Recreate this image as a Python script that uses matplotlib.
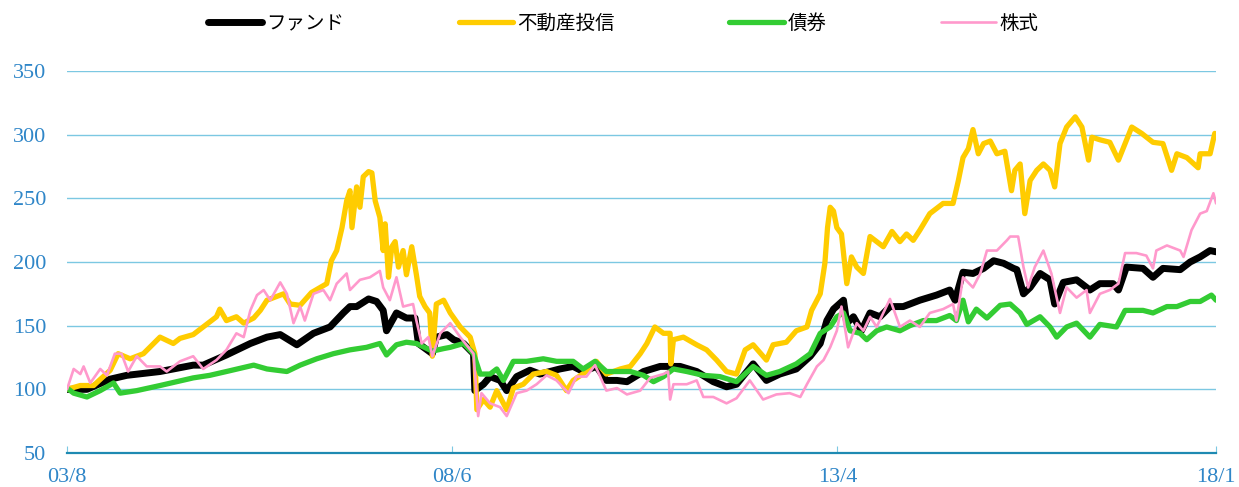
"""
plot.py
Cumulative index of a fund vs. J-REIT, bonds and stocks (03/8 = 100).
"""

import matplotlib
matplotlib.use("Agg")
import matplotlib.pyplot as plt

# months since 2003-08, index value
FUND_M = [0, 3.0, 6.5, 9.0, 14.0, 19.0, 20.5, 24.0, 27.6, 30.1, 32.1, 34.6, 37.1, 39.6,
          41.6, 42.6, 43.6, 45.4, 46.6, 47.6, 48.1, 49.6, 51.1, 52.4, 52.9, 55.0, 55.6,
          57.2, 58.2, 59.7, 61.2, 61.4, 62.7, 63.7, 65.2, 66.2, 67.7, 69.7, 71.2, 72.7,
          74.2, 76.2, 77.7, 79.7, 81.2, 82.8, 84.3, 86.8, 89.3, 92.3, 94.8, 97.3, 99.3,
          100.8, 103.3, 105.3, 107.3, 109.8, 111.9, 113.4, 114.4, 115.4, 116.9, 117.4,
          118.4, 119.6, 120.9, 122.4, 123.9, 125.9, 128.4, 130.9, 132.9, 133.7, 134.9,
          136.4, 138.0, 139.5, 141.0, 142.5, 143.0, 144.0, 145.0, 146.5, 148.0, 148.7,
          150.0, 152.0, 154.0, 155.5, 157.5, 158.3, 159.5, 162.0, 163.5, 165.0, 167.6,
          169.1, 170.6, 172.1, 173]
FUND_V = [100, 100, 108, 111, 114, 119, 119, 127, 136, 141, 143, 135, 144, 149,
          160, 165, 165, 171, 169, 162, 146, 160, 156, 156, 136, 128, 141,
          143, 139, 136, 128, 99, 104, 110, 107, 99, 110, 115, 112, 114,
          116, 118, 114, 118, 107, 107, 106, 114, 118, 118, 114, 106, 102,
          104, 120, 107, 112, 116, 126, 136, 154, 163, 170, 152,
          157, 146, 160, 157, 165, 165, 170, 174, 178, 170, 192,
          191, 195, 201, 199, 195, 194, 175, 180, 191, 186, 167,
          184, 186, 178, 183, 183, 178, 196, 195, 188, 195, 194,
          200, 204, 209, 208]

REIT_M = [0, 2.0, 4.0, 6.5, 7.7, 9.5, 11.5, 14.0, 16.0, 17.0, 19.0, 20.5, 22.5, 23.0,
          24.0, 25.5, 26.6, 28.1, 29.1, 30.1, 32.6, 33.6, 35.1, 36.8, 39.1, 39.8, 40.6,
          41.4, 42.1, 42.6, 42.9, 43.6, 44.1, 44.6, 45.4, 45.9, 46.4, 47.1, 47.6, 47.9,
          48.4, 48.9, 49.4, 49.9, 50.6, 51.1, 51.9, 52.6, 53.1, 53.9, 54.6, 55.0, 55.6,
          56.7, 57.7, 59.2, 60.7, 61.4, 61.7, 62.7, 63.7, 64.7, 66.2, 67.2, 68.7, 70.2,
          72.2, 73.7, 75.2, 76.2, 78.2, 79.7, 81.2, 83.3, 84.8, 86.3, 87.3, 88.5, 89.8,
          90.8, 90.9, 91.3, 92.8, 94.8, 96.3, 97.8, 99.3, 100.8, 102.1, 103.3, 105.3,
          106.3, 108.3, 109.8, 111.4, 112.1, 113.4, 114.1, 114.5, 114.9, 115.4, 115.9,
          116.6, 117.4, 118.1, 118.9, 119.9, 120.9, 121.9, 122.9, 124.2, 125.4, 126.4,
          127.4, 128.4, 129.9, 131.9, 133.4, 134.2, 134.9, 135.7, 136.4, 137.2, 138.0,
          139.0, 140.0, 141.2, 142.2, 142.7, 143.5, 144.2, 145.0, 146.0, 147.0, 148.0,
          148.7, 149.5, 150.5, 151.8, 152.8, 153.8, 154.3, 155.5, 157.0, 158.3, 159.3,
          160.3, 161.8, 163.5, 165.0, 166.3, 167.1, 168.6, 170.3, 170.6, 172.1, 172.8, 173]
REIT_V = [100, 103, 103, 115, 128, 124, 128, 141, 136, 140, 143, 149, 157, 163,
          154, 157, 152, 156, 162, 170, 175, 167, 166, 176, 183, 201, 209,
          227, 248, 256, 227, 259, 243, 267, 271, 270, 248, 235, 209, 230,
          188, 212, 216, 196, 209, 190, 212, 190, 173, 165, 160, 126, 167,
          170, 160, 149, 141, 128, 84, 92, 86, 99, 84, 101, 104, 112,
          114, 111, 99, 107, 114, 122, 112, 116, 118, 128, 136, 149, 144,
          144, 120, 139, 141, 135, 131, 123, 114, 112, 131, 135, 123,
          135, 137, 146, 149, 162, 175, 199, 227, 243, 240, 227,
          222, 183, 204, 196, 191, 220, 216, 212, 224, 216, 222,
          217, 225, 238, 246, 246, 264, 282, 289, 304, 285, 293,
          295, 285, 287, 256, 272, 277, 238, 264, 272, 277, 272,
          259, 293, 306, 314, 306, 280, 298, 296, 294, 280, 293,
          306, 301, 294, 293, 272, 285, 282, 274, 285, 285, 301, 298]

BOND_M = [0, 1.0, 3.0, 5.0, 7.0, 8.0, 10.5, 14.0, 16.5, 19.0, 21.5, 24.0, 28.1, 30.1,
          33.1, 35.1, 37.6, 40.1, 42.6, 45.1, 47.1, 48.1, 49.6, 51.1, 52.6, 55.0, 56.7,
          57.7, 59.7, 61.2, 62.2, 63.7, 64.7, 65.7, 67.2, 69.2, 71.7, 73.7, 76.2, 77.7,
          79.5, 81.2, 84.8, 86.8, 88.3, 89.8, 91.3, 93.3, 95.8, 98.3, 100.8, 103.3, 105.3,
          107.3, 109.8, 111.9, 113.4, 114.9, 115.9, 116.9, 117.9, 119.4, 120.4, 121.9,
          123.4, 125.4, 126.9, 128.9, 130.9, 132.9, 133.9, 134.9, 135.7, 136.9, 138.5,
          140.5, 142.0, 143.5, 144.5, 146.5, 148.0, 149.0, 150.5, 152.0, 154.0, 155.5,
          158.0, 159.3, 162.0, 163.5, 165.6, 167.1, 169.1, 170.6, 172.3, 173]
BOND_V = [101, 97, 94, 99, 105, 97, 99, 103, 106, 109, 111, 114, 119, 116,
          114, 119, 124, 128, 131, 133, 136, 127, 135, 137, 136, 130, 132,
          133, 136, 128, 112, 112, 116, 107, 122, 122, 124, 122, 122, 116,
          122, 114, 114, 111, 106, 110, 116, 114, 111, 110, 106, 118, 111,
          114, 120, 128, 144, 149, 157, 160, 146, 144, 139, 146,
          149, 146, 150, 154, 154, 158, 154, 170, 153, 163, 156,
          166, 167, 160, 151, 157, 149, 141, 149, 152, 141, 151,
          149, 162, 162, 160, 165, 165, 169, 169, 174, 170]

STOCK_M = [0, 1.0, 2.0, 2.5, 3.5, 5.0, 6.0, 7.2, 8.2, 9.2, 10.5, 12.0, 14.0, 15.0,
           17.0, 19.0, 20.5, 22.5, 24.0, 25.5, 26.6, 27.6, 28.6, 29.6, 30.6, 32.1, 33.1,
           34.1, 35.1, 35.8, 37.1, 38.6, 39.6, 40.6, 42.1, 42.6, 44.1, 45.6, 47.1, 47.6,
           48.6, 49.6, 50.6, 52.1, 52.6, 53.4, 54.4, 55.0, 56.2, 57.7, 59.2, 61.2, 61.9,
           62.4, 63.7, 65.2, 66.2, 67.7, 69.2, 70.7, 72.2, 73.7, 75.5, 76.7, 78.2, 79.5,
           81.2, 82.8, 84.3, 86.3, 87.8, 89.8, 90.5, 90.8, 91.3, 93.3, 94.8, 95.8, 97.3,
           99.3, 100.8, 102.8, 104.8, 106.8, 108.8, 110.4, 111.4, 112.9, 113.9, 114.9,
           115.9, 116.6, 117.6, 118.9, 119.9, 120.9, 121.9, 123.9, 125.4, 126.9, 128.4,
           129.9, 131.9, 133.4, 133.9, 134.9, 136.4, 137.5, 138.5, 140.0, 141.5, 142.0,
           143.2, 144.0, 144.7, 145.7, 147.0, 148.2, 149.5, 150.5, 152.0, 153.5, 154.0,
           155.5, 157.0, 158.3, 159.3, 161.0, 162.5, 163.5, 164.0, 165.6, 167.6, 168.1,
           169.3, 170.6, 171.6, 172.6, 173]
STOCK_V = [100, 116, 112, 118, 105, 116, 111, 128, 128, 114, 126, 118, 118, 114,
           122, 126, 116, 123, 131, 144, 141, 162, 174, 178, 170, 184, 175,
           152, 165, 154, 175, 178, 170, 183, 191, 178, 186, 188, 193, 180,
           170, 188, 165, 167, 154, 136, 141, 126, 144, 152, 141, 128, 79,
           97, 89, 86, 79, 97, 99, 104, 111, 107, 97, 110, 110, 119,
           99, 101, 96, 99, 109, 112, 114, 92, 104, 104, 107, 94, 94,
           89, 93, 107, 92, 96, 97, 94, 104, 118, 123, 133,
           146, 165, 133, 152, 146, 157, 149, 171, 149, 154, 149,
           160, 163, 167, 154, 188, 180, 191, 209, 209, 217, 220,
           220, 196, 180, 196, 209, 191, 160, 180, 172, 178, 160,
           175, 178, 183, 207, 207, 205, 195, 209, 213, 209, 204,
           225, 238, 240, 254, 246]

TICK_POS = [0, 58, 116, 173]
TICK_LABELS = ["03/8", "08/6", "13/4", "18/1"]
Y_TICKS = [50, 100, 150, 200, 250, 300, 350]

SERIES = [
    ("ファンド", FUND_M, FUND_V, "#000000", 5.0),
    ("不動産投信", REIT_M, REIT_V, "#FFCC00", 3.8),
    ("債券", BOND_M, BOND_V, "#33CC33", 3.8),
    ("株式", STOCK_M, STOCK_V, "#FF99CC", 1.9),
]

TICK_COLOR = "#2F86C8"
GRID_COLOR = "#7CC8E2"

fig = plt.figure(figsize=(12.39, 4.87), dpi=100)
ax = fig.add_axes([0.0541, 0.0698, 0.9274, 0.7844])

for name, xs, ys, color, lw in SERIES:
    ax.plot(xs, ys, color=color, linewidth=lw, label=name,
            solid_capstyle="round", solid_joinstyle="round")

ax.set_xlim(0, 173)
ax.set_ylim(50, 350)
ax.set_yticks(Y_TICKS)
ax.set_xticks(TICK_POS)
ax.set_xticklabels(TICK_LABELS)

ax.grid(axis="y", color=GRID_COLOR, linewidth=1.0)
ax.set_axisbelow(True)
for side in ["top", "right", "left"]:
    ax.spines[side].set_visible(False)
ax.spines["bottom"].set_color("#1E8AB2")
ax.spines["bottom"].set_linewidth(1.6)

ax.tick_params(axis="y", length=0, pad=15, labelcolor=TICK_COLOR)
ax.tick_params(axis="x", direction="in", length=5, color=GRID_COLOR,
               pad=11, labelcolor=TICK_COLOR)
for lab in ax.get_xticklabels() + ax.get_yticklabels():
    lab.set_fontfamily("Liberation Serif")
    lab.set_fontsize(16)

fig.legend(loc="center", bbox_to_anchor=(0.503, 0.952), ncol=4, frameon=False,
           prop={"family": ["Noto Sans CJK JP", "DejaVu Sans"], "size": 14},
           handlelength=2.8, handletextpad=0.2, columnspacing=5.9)

fig.savefig("out.png", dpi=100)
